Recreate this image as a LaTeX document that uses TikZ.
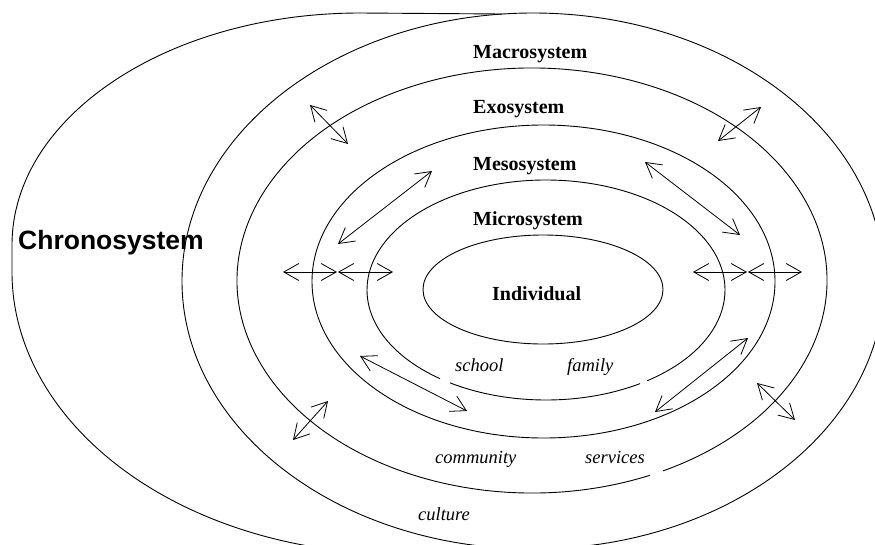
\documentclass[tikz,border=0pt]{standalone}
\usepackage{fontspec}
\setmainfont{Liberation Serif}
\newfontfamily\chronofont{Liberation Sans}
\usetikzlibrary{arrows.meta}
\begin{document}
\begin{tikzpicture}[x=1pt,y=-1pt,
  ring/.style={draw=black,line width=0.9pt},
  barb/.tip={Straight Barb[length=15pt,width=17pt,line width=0.8pt]},
  dbl/.style={draw=black,line width=0.8pt,barb-barb},
  syslabel/.style={anchor=base west,inner sep=0pt,font=\fontsize{20}{24}\selectfont\bfseries},
  ctxlabel/.style={anchor=base west,inner sep=0pt,font=\fontsize{18.5}{22}\selectfont\itshape}]
\useasboundingbox (0,0) rectangle (875,544);
\clip (0,0) rectangle (875,544);

% Chronosystem (left arc joining the macrosystem at the top)
\draw[ring] (502.4,14) -- (360,13)
  arc[start angle=90,end angle=180,x radius=348pt,y radius=232pt] -- (12,272)
  arc[start angle=180,end angle=280,x radius=388pt,y radius=282pt];
% Macrosystem
\draw[ring] (533,281) ellipse [x radius=351pt,y radius=268pt];
% Exosystem (gap near "services")
\draw[ring] ([shift={(296.4:295pt and 212.5pt)}]532,280.5)
  arc[start angle=296.4,end angle=653.6,x radius=295pt,y radius=212.5pt];
% Mesosystem
\draw[ring] (543.5,281.5) ellipse [x radius=231.5pt,y radius=156.5pt];
% Microsystem (two small gaps at the bottom)
\draw[ring] ([shift={(237.6:179pt and 110pt)}]546,290)
  arc[start angle=237.6,end angle=301.7,x radius=179pt,y radius=110pt];
\draw[ring] ([shift={(304.4:179pt and 110pt)}]546,290)
  arc[start angle=304.4,end angle=593.7,x radius=179pt,y radius=110pt];
% Individual
\draw[ring] (543,289.5) ellipse [x radius=120pt,y radius=54.5pt];

% labels
\node[syslabel] (macro) at (473,58) {Macrosystem};
\node[syslabel] (exo) at (473,113) {Exosystem};
\node[syslabel] (meso) at (473,170) {Mesosystem};
\node[syslabel] (micro) at (473,225) {Microsystem};
\node[syslabel] (indiv) at (492,300) {Individual};
\node[ctxlabel] (school) at (455,371) {school};
\node[ctxlabel] (family) at (567,371) {family};
\node[ctxlabel] (community) at (435,463) {community};
\node[ctxlabel] (services) at (585,463) {services};
\node[ctxlabel] (culture) at (418,520) {culture};
\node[anchor=base west,inner sep=0pt,font=\chronofont\fontsize{26.5}{30}\selectfont\bfseries] (chrono) at (18,249) {Chronosystem};

% arrow end points
\coordinate (a1s) at (310,105);   \coordinate (a1e) at (348,144);
\coordinate (a2s) at (432,171);   \coordinate (a2e) at (338,244);
\coordinate (a3s) at (283,272);   \coordinate (a3e) at (337,272);
\coordinate (a4s) at (338,272);   \coordinate (a4e) at (393,272);
\coordinate (a5s) at (693,272);   \coordinate (a5e) at (747,272);
\coordinate (a6s) at (748,272);   \coordinate (a6e) at (802,272);
\coordinate (a7s) at (718,141);   \coordinate (a7e) at (761,107);
\coordinate (a8s) at (645,162);   \coordinate (a8e) at (740,235);
\coordinate (a9s) at (360,356);   \coordinate (a9e) at (467,411);
\coordinate (a10s) at (328,401);  \coordinate (a10e) at (293,440);
\coordinate (a11s) at (748,338);  \coordinate (a11e) at (655,412);
\coordinate (a12s) at (757,383);  \coordinate (a12e) at (795,420);

\foreach \i in {1,...,12}{\draw[dbl] (a\i s) -- (a\i e);}
\end{tikzpicture}
\end{document}
